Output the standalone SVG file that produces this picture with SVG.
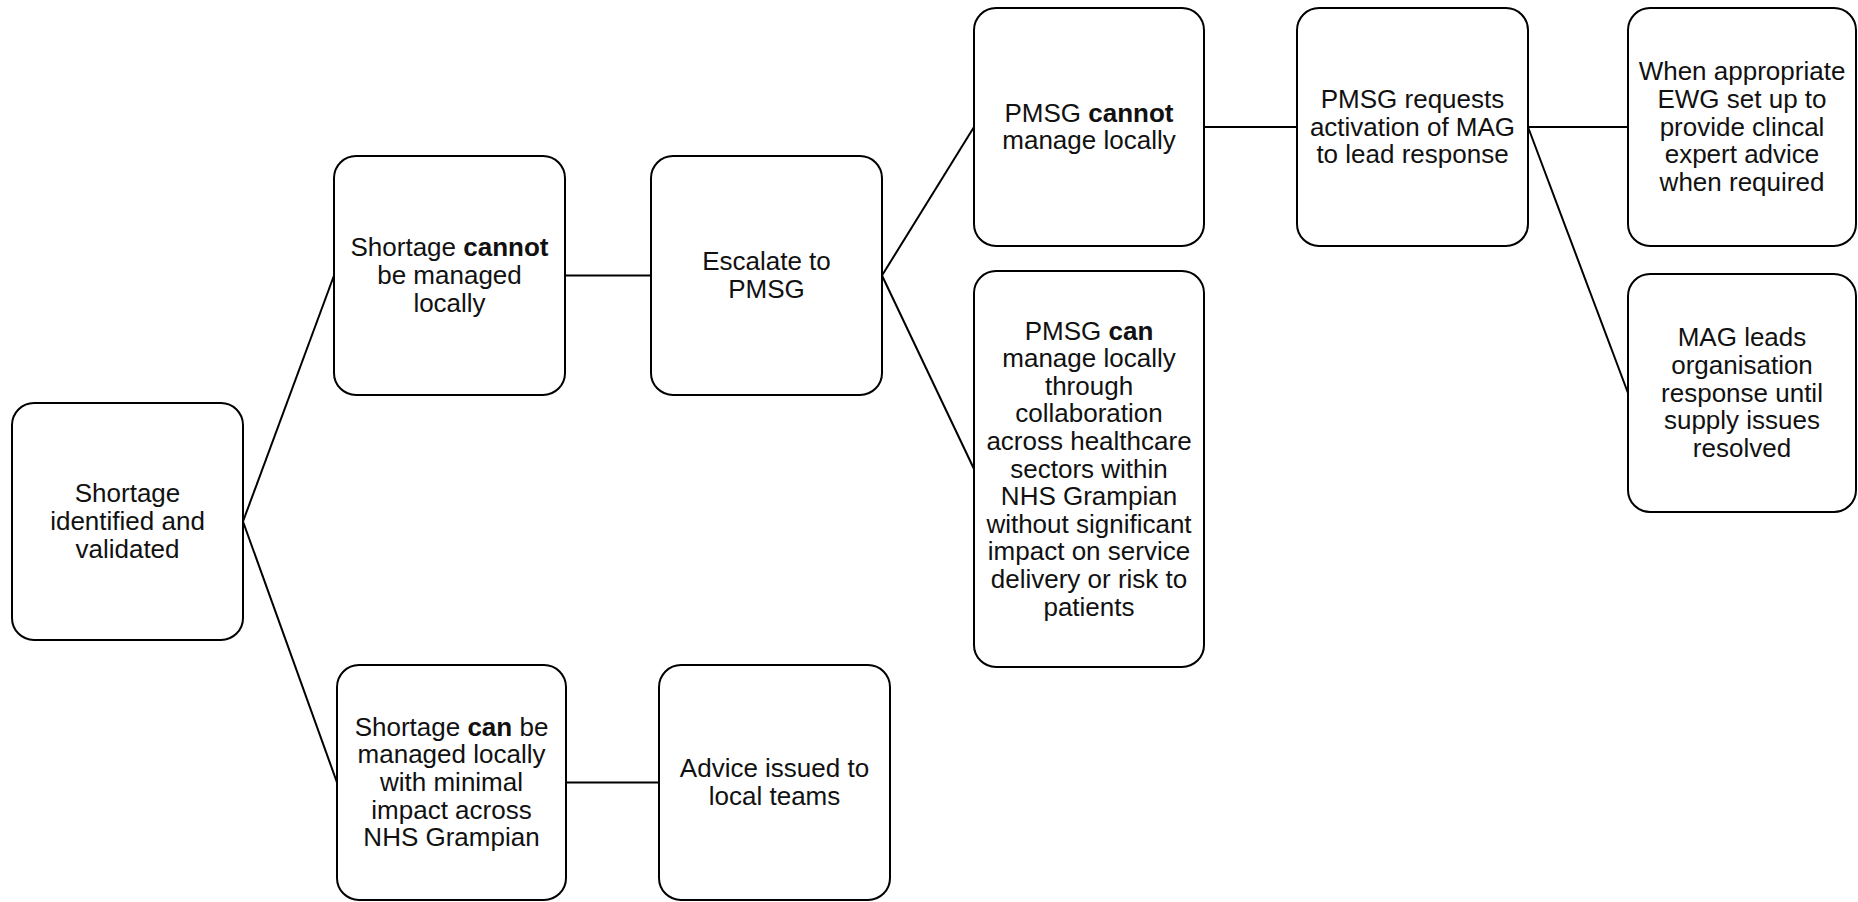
<svg xmlns="http://www.w3.org/2000/svg" width="1858" height="902" viewBox="0 0 1858 902">
<style>
.box{fill:#fff;stroke:#000;stroke-width:2}
.lbl{font-family:"Liberation Sans",Arial,sans-serif;font-size:26px;fill:#111;text-anchor:middle}
.b{font-weight:bold}
.con line{stroke:#000;stroke-width:2}
</style>
<rect width="1858" height="902" fill="#fff"/>
<g class="con" id="connectors">
<line x1="243" y1="521.5" x2="334" y2="275.5"/>
<line x1="243" y1="521.5" x2="337" y2="782.5"/>
<line x1="565" y1="275.5" x2="651" y2="275.5"/>
<line x1="882" y1="275.5" x2="974" y2="127"/>
<line x1="882" y1="275.5" x2="974" y2="469"/>
<line x1="1204" y1="127" x2="1297" y2="127"/>
<line x1="1528" y1="127" x2="1628" y2="127"/>
<line x1="1528" y1="127" x2="1628" y2="393"/>
<line x1="566" y1="782.5" x2="659" y2="782.5"/>
</g>
<g id="n1"><rect class="box" x="12" y="403" width="231" height="237" rx="22"/>
<text class="lbl"><tspan x="127.5" y="502.4">Shortage</tspan><tspan x="127.5" y="530">identified and</tspan><tspan x="127.5" y="557.6">validated</tspan></text></g>
<g id="n2"><rect class="box" x="334" y="156" width="231" height="239" rx="22"/>
<text class="lbl"><tspan x="449.5" y="256.4">Shortage <tspan class="b">cannot</tspan></tspan><tspan x="449.5" y="284">be managed</tspan><tspan x="449.5" y="311.6">locally</tspan></text></g>
<g id="n3"><rect class="box" x="651" y="156" width="231" height="239" rx="22"/>
<text class="lbl"><tspan x="766.5" y="270.2">Escalate to</tspan><tspan x="766.5" y="297.8">PMSG</tspan></text></g>
<g id="n4"><rect class="box" x="974" y="8" width="230" height="238" rx="22"/>
<text class="lbl"><tspan x="1089" y="121.7">PMSG <tspan class="b">cannot</tspan></tspan><tspan x="1089" y="149.3">manage locally</tspan></text></g>
<g id="n5"><rect class="box" x="1297" y="8" width="231" height="238" rx="22"/>
<text class="lbl"><tspan x="1412.5" y="107.9">PMSG requests</tspan><tspan x="1412.5" y="135.5">activation of MAG</tspan><tspan x="1412.5" y="163.1">to lead response</tspan></text></g>
<g id="n6"><rect class="box" x="1628" y="8" width="228" height="238" rx="22"/>
<text class="lbl"><tspan x="1742" y="80.3">When appropriate</tspan><tspan x="1742" y="107.9">EWG set up to</tspan><tspan x="1742" y="135.5">provide clincal</tspan><tspan x="1742" y="163.1">expert advice</tspan><tspan x="1742" y="190.7">when required</tspan></text></g>
<g id="n7"><rect class="box" x="974" y="271" width="230" height="396" rx="22"/>
<text class="lbl"><tspan x="1089" y="339.5">PMSG <tspan class="b">can</tspan></tspan><tspan x="1089" y="367.1">manage locally</tspan><tspan x="1089" y="394.7">through</tspan><tspan x="1089" y="422.3">collaboration</tspan><tspan x="1089" y="449.9">across healthcare</tspan><tspan x="1089" y="477.5">sectors within</tspan><tspan x="1089" y="505.1">NHS Grampian</tspan><tspan x="1089" y="532.7">without significant</tspan><tspan x="1089" y="560.3">impact on service</tspan><tspan x="1089" y="587.9">delivery or risk to</tspan><tspan x="1089" y="615.5">patients</tspan></text></g>
<g id="n8"><rect class="box" x="1628" y="274" width="228" height="238" rx="22"/>
<text class="lbl"><tspan x="1742" y="346.3">MAG leads</tspan><tspan x="1742" y="373.9">organisation</tspan><tspan x="1742" y="401.5">response until</tspan><tspan x="1742" y="429.1">supply issues</tspan><tspan x="1742" y="456.7">resolved</tspan></text></g>
<g id="n9"><rect class="box" x="337" y="665" width="229" height="235" rx="22"/>
<text class="lbl"><tspan x="451.5" y="735.8">Shortage <tspan class="b">can</tspan> be</tspan><tspan x="451.5" y="763.4">managed locally</tspan><tspan x="451.5" y="791">with minimal</tspan><tspan x="451.5" y="818.6">impact across</tspan><tspan x="451.5" y="846.2">NHS Grampian</tspan></text></g>
<g id="n10"><rect class="box" x="659" y="665" width="231" height="235" rx="22"/>
<text class="lbl"><tspan x="774.5" y="777.2">Advice issued to</tspan><tspan x="774.5" y="804.8">local teams</tspan></text></g>
</svg>
